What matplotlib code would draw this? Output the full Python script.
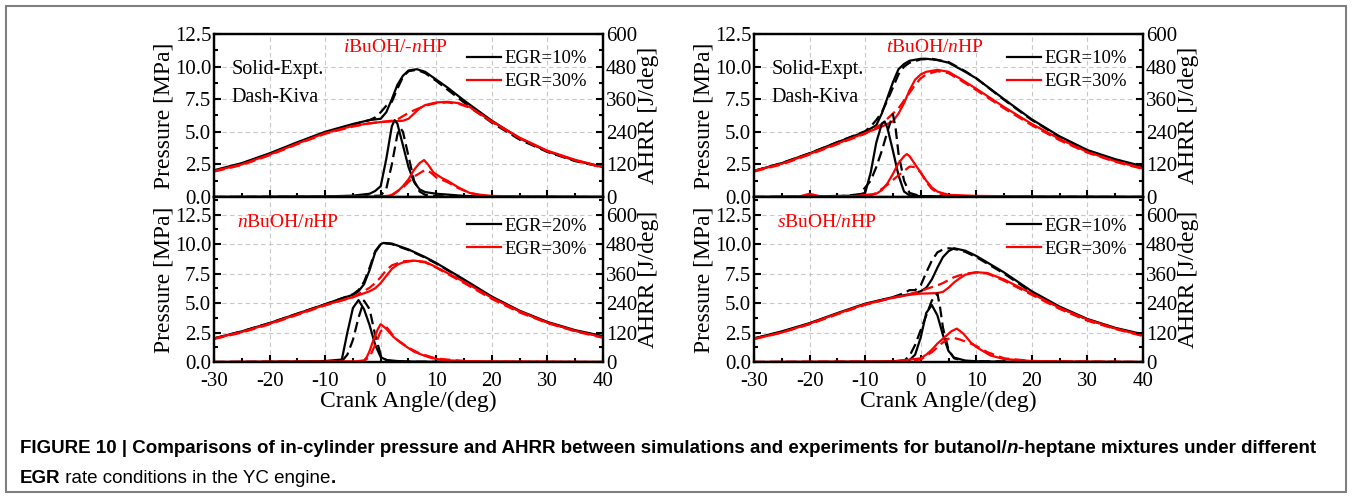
import matplotlib
matplotlib.use('Agg')
import matplotlib.pyplot as plt
from matplotlib.ticker import MultipleLocator, FormatStrFormatter
from matplotlib.patches import Rectangle
from matplotlib.lines import Line2D

plt.rcParams['font.family'] = 'Liberation Serif'
plt.rcParams['mathtext.fontset'] = 'custom'
plt.rcParams['mathtext.rm'] = 'Liberation Serif'
plt.rcParams['mathtext.it'] = 'Liberation Serif:italic'
plt.rcParams['axes.unicode_minus'] = False

# --- data: pressure [MPa] and AHRR [J/deg] vs crank angle [deg] ---
# iBuOH/-nHP (top left)
i_p10_exp_ca = [-30, -25, -20, -15, -10, -5, -2, 0, 1, 2, 3, 4, 5, 6.5, 8, 10, 12, 15, 20, 25, 30, 35, 40]
i_p10_exp = [2.05, 2.6, 3.35, 4.2, 5.0, 5.6, 5.9, 6.0, 6.5, 7.5, 8.6, 9.3, 9.7, 9.8, 9.6, 9.0, 8.4, 7.4, 5.85, 4.5, 3.5, 2.8, 2.3]
i_p10_sim_ca = [-30, -25, -20, -15, -10, -5, -2, -1, 0, 1, 2, 3, 4, 5, 6.5, 8, 10, 15, 20, 25, 30, 35, 40]
i_p10_sim = [2.0, 2.55, 3.3, 4.15, 4.95, 5.55, 5.9, 6.1, 6.5, 7.0, 7.3, 8.3, 9.2, 9.65, 9.75, 9.5, 8.9, 7.25, 5.7, 4.4, 3.45, 2.75, 2.3]
i_p30_exp_ca = [-30, -25, -20, -15, -10, -5, -2, 0, 2, 4, 5, 6, 7, 8, 10, 12, 14, 16, 20, 25, 30, 35, 40]
i_p30_exp = [2.0, 2.5, 3.25, 4.1, 4.9, 5.45, 5.65, 5.75, 5.8, 5.85, 6.0, 6.4, 6.8, 7.05, 7.25, 7.3, 7.2, 6.9, 5.8, 4.55, 3.55, 2.85, 2.3]
i_p30_sim_ca = [-30, -25, -20, -15, -10, -5, -2, 0, 2, 3, 4, 5, 6, 8, 10, 12, 14, 16, 20, 25, 30, 35, 40]
i_p30_sim = [1.95, 2.45, 3.2, 4.05, 4.85, 5.4, 5.65, 5.75, 5.85, 5.95, 6.2, 6.45, 6.65, 7.0, 7.2, 7.25, 7.15, 6.85, 5.75, 4.5, 3.5, 2.8, 2.25]
i_q10_exp_ca = [-30, -10, -5, -2, -1, 0, 1, 2, 2.5, 3, 4, 5, 6, 7, 8, 10, 12, 15, 20, 40]
i_q10_exp = [0, 2, 5, 12, 22, 40, 140, 260, 283, 270, 190, 110, 55, 28, 18, 12, 9, 4, 1, 0]
i_q10_sim_ca = [-30, -5, 0, 1, 2, 3, 3.5, 4, 5, 6, 7, 8, 10, 15, 40]
i_q10_sim = [0, 2, 5, 30, 120, 230, 255, 240, 150, 60, 20, 8, 3, 1, 0]
i_q30_exp_ca = [-30, 0, 2, 3, 4, 5, 6, 7, 7.8, 8.5, 9.5, 11, 12, 14, 16, 18, 20, 25, 40]
i_q30_exp = [0, 2, 6, 20, 40, 65, 100, 125, 136, 120, 90, 70, 60, 35, 15, 8, 4, 2, 0]
i_q30_sim_ca = [-30, 0, 2, 4, 6, 8, 9, 10, 12, 14, 16, 18, 20, 40]
i_q30_sim = [0, 0, 8, 35, 75, 100, 90, 72, 55, 32, 15, 6, 2, 0]

# tBuOH/nHP (top right)
t_p10_exp_ca = [-30, -25, -20, -15, -10, -8, -7, -6, -5, -4, -3, -2, 0, 1, 3, 5, 8, 10, 15, 20, 25, 30, 35, 40]
t_p10_exp = [2.0, 2.6, 3.35, 4.2, 5.0, 5.5, 6.4, 7.6, 8.8, 9.8, 10.2, 10.45, 10.6, 10.6, 10.5, 10.3, 9.6, 9.1, 7.5, 5.95, 4.65, 3.6, 2.9, 2.35]
t_p10_sim_ca = [-30, -25, -20, -15, -10, -9, -8, -7, -6, -5, -4, -3, -2, 0, 2, 5, 8, 10, 15, 20, 25, 30, 35, 40]
t_p10_sim = [2.0, 2.6, 3.35, 4.2, 5.05, 5.4, 5.9, 6.5, 7.4, 8.4, 9.4, 10.0, 10.3, 10.55, 10.6, 10.35, 9.65, 9.1, 7.45, 5.9, 4.6, 3.55, 2.85, 2.3]
t_p30_exp_ca = [-30, -25, -20, -15, -10, -7, -5, -4, -3, -2, -1, 0, 1, 3, 5, 7, 10, 12.5, 15, 20, 25, 30, 35, 40]
t_p30_exp = [2.0, 2.55, 3.3, 4.1, 4.9, 5.4, 5.8, 6.4, 7.2, 8.2, 9.0, 9.4, 9.6, 9.75, 9.6, 9.1, 8.3, 7.6, 6.9, 5.6, 4.45, 3.45, 2.75, 2.2]
t_p30_sim_ca = [-30, -25, -20, -15, -10, -7, -6, -5, -4, -3, -2, -1, 0, 1, 3, 5, 7, 10, 15, 20, 25, 30, 35, 40]
t_p30_sim = [1.95, 2.5, 3.25, 4.05, 4.85, 5.6, 6.0, 6.4, 6.8, 7.4, 8.0, 8.6, 9.1, 9.4, 9.65, 9.5, 9.0, 8.2, 6.8, 5.5, 4.35, 3.4, 2.7, 2.15]
t_q10_exp_ca = [-30, -20, -12, -10, -9, -8, -7, -6.5, -6, -5, -4, -3, -2, 0, 5, 10, 40]
t_q10_exp = [0, 2, 5, 15, 90, 200, 270, 278, 255, 170, 80, 20, 6, 3, 2, 1, 0]
t_q10_sim_ca = [-30, -15, -11, -9, -8, -7, -6, -5, -4.5, -4, -3, -2, 0, 5, 40]
t_q10_sim = [0, 2, 10, 60, 110, 170, 240, 305, 250, 160, 60, 15, 3, 1, 0]
t_q30_exp_ca = [-30, -22, -20, -18, -12, -8, -7, -6, -5, -4, -3, -2.5, -2, -1, 0, 1, 2, 3, 5, 10, 20, 40]
t_q30_exp = [0, 1, 12, 2, 3, 12, 25, 50, 85, 125, 150, 158, 150, 120, 90, 60, 35, 20, 8, 4, 2, 0]
t_q30_sim_ca = [-30, -10, -9, -8, -6, -4, -2, -1, 0, 1, 2, 3, 5, 10, 40]
t_q30_sim = [0, 2, 5, 15, 45, 80, 112, 110, 90, 55, 30, 15, 5, 2, 0]

# nBuOH/nHP (bottom left)
n_p20_exp_ca = [-30, -25, -20, -15, -10, -7, -5, -4, -3, -2, -1, 0, 0.5, 2, 5, 8, 10, 15, 20, 25, 30, 35, 40]
n_p20_exp = [2.0, 2.6, 3.3, 4.1, 4.9, 5.4, 5.7, 6.0, 6.6, 7.8, 9.3, 10.0, 10.1, 10.05, 9.55, 8.9, 8.4, 7.0, 5.55, 4.35, 3.4, 2.7, 2.2]
n_p20_sim_ca = [-30, -25, -20, -15, -10, -7, -5, -4, -3, -2, -1, 0, 0.5, 2, 5, 8, 10, 15, 20, 25, 30, 35, 40]
n_p20_sim = [2.0, 2.6, 3.3, 4.1, 4.9, 5.4, 5.75, 6.1, 6.8, 8.0, 9.4, 10.0, 10.1, 10.0, 9.5, 8.85, 8.35, 6.95, 5.5, 4.3, 3.35, 2.65, 2.15]
n_p30_exp_ca = [-30, -25, -20, -15, -10, -5, -2, -1, 0, 1, 2, 3, 4, 6, 8, 10, 15, 20, 25, 30, 35, 40]
n_p30_exp = [2.0, 2.55, 3.25, 4.05, 4.85, 5.5, 6.0, 6.25, 6.7, 7.3, 7.9, 8.25, 8.45, 8.6, 8.5, 8.05, 6.8, 5.45, 4.3, 3.35, 2.65, 2.1]
n_p30_sim_ca = [-30, -25, -20, -15, -10, -5, -2, -1, 0, 1, 2, 4, 6, 8, 10, 15, 20, 25, 30, 35, 40]
n_p30_sim = [1.95, 2.5, 3.2, 4.0, 4.8, 5.5, 6.3, 6.7, 7.2, 7.8, 8.2, 8.55, 8.6, 8.45, 8.0, 6.7, 5.35, 4.2, 3.3, 2.6, 2.05]
n_q20_exp_ca = [-30, -15, -10, -7, -6, -5, -4, -3, -2, -1, 0, 1, 3, 5, 10, 40]
n_q20_exp = [0, 2, 4, 10, 120, 220, 252, 215, 150, 70, 20, 8, 4, 2, 1, 0]
n_q20_sim_ca = [-30, -10, -7, -6, -5, -4, -3, -2, -1, 0, 1, 2, 5, 40]
n_q20_sim = [0, 2, 3, 30, 90, 180, 250, 215, 110, 30, 8, 3, 1, 0]
n_q30_exp_ca = [-30, -5, -3, -2.5, -2, -1.3, -0.5, 0, 1, 2.3, 3.5, 4.7, 6, 7.7, 9, 10.7, 12, 15, 20, 40]
n_q30_exp = [0, 2, 6, 20, 45, 90, 135, 154, 135, 102, 80, 61, 42, 27, 17, 10, 7, 4, 2, 0]
n_q30_sim_ca = [-30, -5, -3, -2, -1, 0, 1, 2, 3, 5, 7, 10, 15, 20, 40]
n_q30_sim = [0, 2, 5, 20, 70, 125, 143, 115, 90, 58, 35, 14, 4, 2, 0]

# sBuOH/nHP (bottom right)
s_p10_exp_ca = [-30, -25, -20, -15, -10, -5, -2, 0, 1, 2, 3, 4, 5, 6, 8, 10, 15, 20, 25, 30, 35, 40]
s_p10_exp = [2.0, 2.6, 3.3, 4.15, 4.95, 5.5, 5.75, 6.0, 6.3, 7.0, 8.0, 8.9, 9.4, 9.65, 9.45, 9.0, 7.6, 6.0, 4.7, 3.65, 2.9, 2.35]
s_p10_sim_ca = [-30, -25, -20, -15, -10, -5, -3, -2, -1, 0, 1, 2, 3, 4, 5, 6, 8, 10, 15, 20, 25, 30, 35, 40]
s_p10_sim = [2.0, 2.55, 3.25, 4.1, 4.9, 5.5, 5.85, 6.1, 6.1, 6.5, 7.6, 8.6, 9.3, 9.55, 9.65, 9.6, 9.35, 8.9, 7.5, 5.9, 4.6, 3.6, 2.85, 2.3]
s_p30_exp_ca = [-30, -25, -20, -15, -10, -5, -2, 0, 3, 4, 5, 6, 7, 8, 10, 12, 15, 20, 25, 30, 35, 40]
s_p30_exp = [1.95, 2.5, 3.25, 4.1, 4.9, 5.45, 5.7, 5.8, 5.85, 5.95, 6.3, 6.75, 7.1, 7.4, 7.62, 7.55, 7.0, 5.8, 4.6, 3.6, 2.85, 2.25]
s_p30_sim_ca = [-30, -25, -20, -15, -10, -5, -2, 0, 1, 2, 3, 4, 5, 6, 8, 10, 12, 15, 20, 25, 30, 35, 40]
s_p30_sim = [1.95, 2.5, 3.2, 4.05, 4.85, 5.45, 5.75, 6.0, 6.2, 6.35, 6.5, 6.7, 6.95, 7.2, 7.5, 7.6, 7.5, 6.9, 5.7, 4.5, 3.5, 2.8, 2.2]
s_q10_exp_ca = [-30, -10, -5, -2, -1, 0, 1, 2, 3, 4, 5, 6, 8, 10, 15, 40]
s_q10_exp = [0, 1, 3, 8, 30, 100, 200, 232, 190, 110, 45, 18, 6, 3, 1, 0]
s_q10_sim_ca = [-30, -5, -3, -2, -1, 0, 1, 2, 3, 3.5, 4, 5, 6, 8, 40]
s_q10_sim = [0, 1, 5, 25, 70, 130, 190, 250, 280, 220, 140, 50, 15, 3, 0]
s_q30_exp_ca = [-30, -5, 0, 1, 2, 3, 4, 5, 5.5, 6.5, 7.7, 9, 10, 12.5, 15, 20, 25, 40]
s_q30_exp = [0, 2, 15, 30, 50, 75, 95, 115, 125, 136, 115, 80, 61, 27, 12, 4, 2, 0]
s_q30_sim_ca = [-30, -5, 0, 2, 4, 5, 6, 7, 9, 10, 12, 15, 20, 40]
s_q30_sim = [0, 2, 10, 40, 80, 95, 98, 92, 75, 65, 40, 15, 4, 0]

W, H = 1352, 498
RED = '#ff0000'
DASH = (0, (4.8, 2.4))

fig = plt.figure(figsize=(W / 100, H / 100), dpi=100)

# outer frame of the figure
fig.patches.append(Rectangle((6 / W, 6 / H), 1340 / W, 486 / H, transform=fig.transFigure,
                             fill=False, edgecolor='#7f7f7f', linewidth=1.5))

panels = [
    dict(box=(214, 34, 603, 197), top=True, title=r'$i$BuOH/-$n$HP', notes=True,
         labels=('EGR=10%', 'EGR=30%'),
         p=[(i_p10_exp_ca, i_p10_exp, 'k', '-'), (i_p10_sim_ca, i_p10_sim, 'k', DASH),
            (i_p30_exp_ca, i_p30_exp, RED, '-'), (i_p30_sim_ca, i_p30_sim, RED, DASH)],
         q=[(i_q10_exp_ca, i_q10_exp, 'k', '-'), (i_q10_sim_ca, i_q10_sim, 'k', DASH),
            (i_q30_exp_ca, i_q30_exp, RED, '-'), (i_q30_sim_ca, i_q30_sim, RED, DASH)]),
    dict(box=(754, 34, 1143, 197), top=True, title=r'$t$BuOH/$n$HP', notes=True,
         labels=('EGR=10%', 'EGR=30%'),
         p=[(t_p10_exp_ca, t_p10_exp, 'k', '-'), (t_p10_sim_ca, t_p10_sim, 'k', DASH),
            (t_p30_exp_ca, t_p30_exp, RED, '-'), (t_p30_sim_ca, t_p30_sim, RED, DASH)],
         q=[(t_q10_exp_ca, t_q10_exp, 'k', '-'), (t_q10_sim_ca, t_q10_sim, 'k', DASH),
            (t_q30_exp_ca, t_q30_exp, RED, '-'), (t_q30_sim_ca, t_q30_sim, RED, DASH)]),
    dict(box=(214, 197, 603, 362), top=False, title=r'$n$BuOH/$n$HP', notes=False,
         labels=('EGR=20%', 'EGR=30%'),
         p=[(n_p20_exp_ca, n_p20_exp, 'k', '-'), (n_p20_sim_ca, n_p20_sim, 'k', DASH),
            (n_p30_exp_ca, n_p30_exp, RED, '-'), (n_p30_sim_ca, n_p30_sim, RED, DASH)],
         q=[(n_q20_exp_ca, n_q20_exp, 'k', '-'), (n_q20_sim_ca, n_q20_sim, 'k', DASH),
            (n_q30_exp_ca, n_q30_exp, RED, '-'), (n_q30_sim_ca, n_q30_sim, RED, DASH)]),
    dict(box=(754, 197, 1143, 362), top=False, title=r'$s$BuOH/$n$HP', notes=False,
         labels=('EGR=10%', 'EGR=30%'),
         p=[(s_p10_exp_ca, s_p10_exp, 'k', '-'), (s_p10_sim_ca, s_p10_sim, 'k', DASH),
            (s_p30_exp_ca, s_p30_exp, RED, '-'), (s_p30_sim_ca, s_p30_sim, RED, DASH)],
         q=[(s_q10_exp_ca, s_q10_exp, 'k', '-'), (s_q10_sim_ca, s_q10_sim, 'k', DASH),
            (s_q30_exp_ca, s_q30_exp, RED, '-'), (s_q30_sim_ca, s_q30_sim, RED, DASH)]),
]

for pn in panels:
    x0, y0, x1, y1 = pn['box']
    ax = fig.add_axes([x0 / W, 1 - y1 / H, (x1 - x0) / W, (y1 - y0) / H])
    ax2 = ax.twinx()

    for xs, ys, c, ls in pn['p']:
        ax.plot(xs, ys, color=c, linestyle=ls, lw=1.6)
    for xs, ys, c, ls in pn['q']:
        ax2.plot(xs, ys, color=c, linestyle=ls, lw=1.6)

    ax.set_xlim(-30, 40)
    if pn['top']:
        ax.set_ylim(0, 12.5)
        ax2.set_ylim(0, 600)
    else:
        ax.set_ylim(0, 14.0)
        ax2.set_ylim(0, 672)

    ax.xaxis.set_major_locator(MultipleLocator(10))
    ax.xaxis.set_minor_locator(MultipleLocator(5))
    ax.yaxis.set_major_locator(MultipleLocator(2.5))
    ax.yaxis.set_minor_locator(MultipleLocator(1.25))
    ax.yaxis.set_major_formatter(FormatStrFormatter('%.1f'))
    ax2.yaxis.set_major_locator(MultipleLocator(120))
    ax2.yaxis.set_minor_locator(MultipleLocator(60))
    ax.grid(True, which='major', color='#c8c8c8', linestyle=(0, (4, 3)), linewidth=0.8)

    for a in (ax, ax2):
        for sp in a.spines.values():
            sp.set_linewidth(1.6)
        a.tick_params(which='both', direction='in', width=1.5, labelsize=15, pad=2)
        a.tick_params(which='major', length=5)
        a.tick_params(which='minor', length=3)
    ax.tick_params(axis='y', which='both', right=False)
    ax.tick_params(axis='x', pad=7)
    if pn['top']:
        ax.tick_params(axis='x', labelbottom=False)
    else:
        ax.set_xlabel('Crank Angle/(deg)', fontsize=17, labelpad=0)

    ax.set_ylabel('Pressure [MPa]', fontsize=17, labelpad=0)
    ax2.set_ylabel('AHRR [J/deg]', fontsize=17, labelpad=1)

    if pn['notes']:
        ax.text(0.046, 0.78, 'Solid-Expt.', transform=ax.transAxes, fontsize=14.5, va='center')
        ax.text(0.046, 0.61, 'Dash-Kiva', transform=ax.transAxes, fontsize=14.5, va='center')
        ax.text(0.465, 0.92, pn['title'], transform=ax.transAxes, fontsize=14, color=RED,
                ha='center', va='center')
        leg_y = 0.90
    else:
        ax.text(0.059, 0.845, pn['title'], transform=ax.transAxes, fontsize=14, color=RED,
                ha='left', va='center')
        leg_y = 0.875

    handles = [Line2D([], [], color='k', lw=1.6), Line2D([], [], color=RED, lw=1.6)]
    ax2.legend(handles, pn['labels'], loc='upper right', bbox_to_anchor=(0.96, leg_y),
               frameon=False, fontsize=13.5, handlelength=1.8, handletextpad=0.2,
               labelspacing=0.3, borderpad=0, borderaxespad=0)

# caption (bold sans, with italic n)
sans = ['Liberation Sans Narrow', 'Liberation Sans']
renderer = fig.canvas.get_renderer()


def chain(pieces, x_px, y_px):
    x = x_px / W
    for txt, style in pieces:
        t = fig.text(x, 1 - y_px / H, txt, fontsize=13.5, family=sans, va='baseline',
                     fontweight='bold' if 'b' in style else 'normal',
                     fontstyle='italic' if 'i' in style else 'normal')
        bb = t.get_window_extent(renderer)
        x = bb.x1 / W


chain([('FIGURE 10 | Comparisons of in-cylinder pressure and AHRR between simulations and '
        'experiments for butanol/', 'b'), ('n', 'bi'), ('-heptane mixtures under different', 'b')],
      20, 453)
chain([('EGR', 'b'), (' rate conditions in the YC engine', ''), ('.', 'b')], 20, 483)

fig.savefig('out.png', dpi=100)
